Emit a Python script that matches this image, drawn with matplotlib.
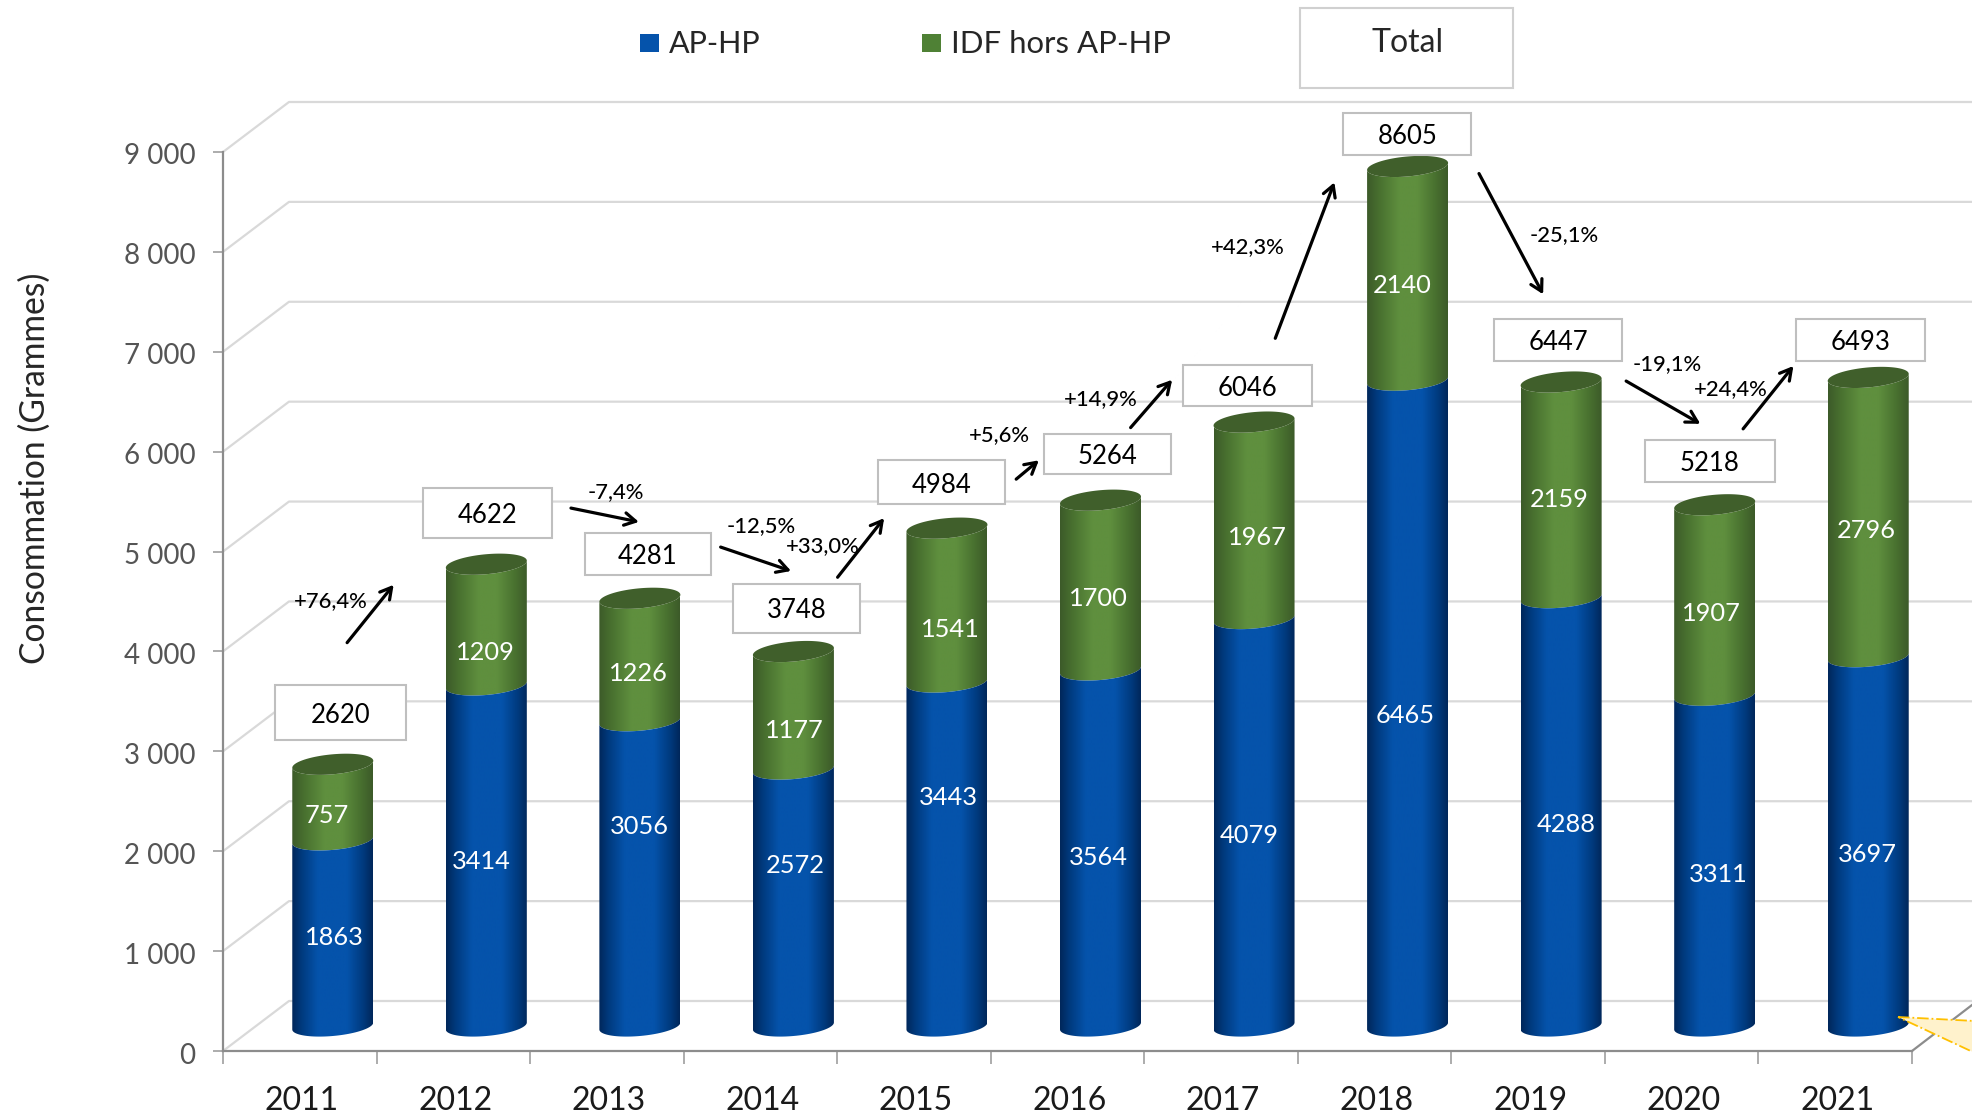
import numpy as np
import matplotlib
matplotlib.use("Agg")
import matplotlib.pyplot as plt
from matplotlib.colors import LinearSegmentedColormap
from matplotlib.patches import Polygon, Rectangle
from matplotlib.ticker import FuncFormatter
from matplotlib.transforms import ScaledTranslation

plt.rcParams['font.family'] = ['Lato', 'DejaVu Sans']

years = [2011, 2012, 2013, 2014, 2015, 2016, 2017, 2018, 2019, 2020, 2021]
aphp = [1863, 3414, 3056, 2572, 3443, 3564, 4079, 6465, 4288, 3311, 3697]
idf = [757, 1209, 1226, 1177, 1541, 1700, 1967, 2140, 2159, 1907, 2796]
totals = [2620, 4622, 4281, 3748, 4984, 5264, 6046, 8605, 6447, 5218, 6493]
changes = ['+76,4%', '-7,4%', '-12,5%', '+33,0%', '+5,6%', '+14,9%', '+42,3%', '-25,1%', '-19,1%', '+24,4%']
yticks = [0, 1000, 2000, 3000, 4000, 5000, 6000, 7000, 8000, 9000]

W, H = 1972, 1116
S = 1972 / 1568
X0, X1, Y0, Y9 = 223.0, 1912.0, 1051.0, 152.0
PXX = (X1 - X0) / 11
PXY = (Y0 - Y9) / 9000
DX, DY = 66 / PXX, 50 / PXY
TEXT_SHIFT = 2.2   # Lato sits higher than its box centre

fig = plt.figure(figsize=(W / 100, H / 100), dpi=100, facecolor='white')
ax = fig.add_axes([X0 / W, (H - Y0) / H, (X1 - X0) / W, (Y0 - Y9) / H])
ax.patch.set_alpha(0)


def px(x, y):
    return (x - X0) / PXX, (Y0 - y) / PXY


def spx(x, y):
    return px(x * S, y * S)


def tpx(x, y):
    return spx(x, y + TEXT_SHIFT)


# walls
GRID = '#d9d9d9'
AXC = '#8c8c8c'
xright = (W - X0) / PXX
for v in yticks:
    ax.plot([0, DX, xright], [v, v + DY, v + DY], color=GRID, lw=1.6, clip_on=False, zorder=1)
ax.plot([11, 11 + (W - X1) / PXX], [0, 46 / PXY], color=AXC, lw=1.6, clip_on=False, zorder=1.5)

# axes
for s in ('top', 'right'):
    ax.spines[s].set_visible(False)
for s in ('left', 'bottom'):
    ax.spines[s].set_color(AXC)
    ax.spines[s].set_linewidth(1.6)
    ax.spines[s].set_zorder(1.6)
ax.set_xlim(0, 11)
ax.set_ylim(0, 9000)
ax.set_yticks(yticks)
ax.yaxis.set_major_formatter(FuncFormatter(lambda v, _: f"{int(v):,}".replace(',', ' ')))
ax.tick_params(axis='y', length=7, width=1.3, color='#a6a6a6', pad=13, labelsize=20, labelcolor='#555555')
ax.set_xticks(np.arange(0, 12))
ax.set_xticklabels([])
ax.set_xticks(np.arange(11) + 0.5, minor=True)
ax.set_xticklabels([str(y) for y in years], minor=True)
ax.tick_params(axis='x', which='major', length=9, width=1.3, color='#a6a6a6')
ax.tick_params(axis='x', which='minor', length=0, pad=25, labelsize=23, labelcolor='#1a1a1a')
for lab in ax.get_xticklabels(minor=True):
    lab.set_transform(lab.get_transform() + ScaledTranslation(2 / 100, 0, fig.dpi_scale_trans))
for lab in ax.get_yticklabels():
    lab.set_transform(lab.get_transform() + ScaledTranslation(0, -2 / 100, fig.dpi_scale_trans))

lx, ly = px(35, 468)
ax.text(lx, ly, 'Consommation (Grammes)', rotation=90, ha='center', va='center',
        fontsize=24.2, color='#262626', clip_on=False)

# cylinders
blue_cmap = LinearSegmentedColormap.from_list('b', [(0, '#00275a'), (.12, '#003a7e'), (.32, '#0553ab'), (.68, '#0553ab'), (.88, '#003a7e'), (1, '#00275a')])
green_cmap = LinearSegmentedColormap.from_list('g', [(0, '#3c5a29'), (.15, '#48702f'), (.4, '#5f8f3e'), (.62, '#5f8f3e'), (.85, '#48702f'), (1, '#3c5a29')])
grad = np.linspace(0, 1, 256).reshape(1, -1)
HW = 40.5 / PXX
TILT, MINOR = 3.5 / PXY, 10 / PXY
t_front = np.linspace(np.pi, 0, 60)   # left -> right through the lower side
t_all = np.linspace(0, 2 * np.pi, 120)


def ell(xc, v, t):
    return xc + HW * np.cos(t), v + TILT * np.cos(t) - MINOR * np.sin(t)


def body(xc, v0, v1, cmap, z):
    x0, y0 = ell(xc, v0, t_front)
    x1, y1 = ell(xc, v1, t_front)
    pts = np.vstack([np.c_[x0, y0], np.c_[x1[::-1], y1[::-1]]])
    patch = Polygon(pts, closed=True, fc='none', ec='none', transform=ax.transData, zorder=z)
    ax.add_patch(patch)
    im = ax.imshow(grad, cmap=cmap, aspect='auto', extent=[xc - HW, xc + HW, v0 - 1000, v1 + 1000],
                   zorder=z, interpolation='bilinear')
    im.set_clip_path(patch)
    im.set_clip_on(True)


for i, (a, g) in enumerate(zip(aphp, idf)):
    xc = i + 0.5 + DX / 2
    base = DY / 2
    body(xc, base + a, base + a + g, green_cmap, 3)
    body(xc, base, base + a, blue_cmap, 3.1)
    ex, ey = ell(xc, base + a + g, t_all)
    ax.add_patch(Polygon(np.c_[ex, ey], closed=True, fc='#405f2b', ec='none', zorder=3.2, clip_on=False))
ax.set_xlim(0, 11)
ax.set_ylim(0, 9000)

# value labels
blue_pos = [(265, 743), (382, 683), (507, 655), (631, 686), (753, 632), (872, 680), (992, 662), (1116, 567), (1244, 653), (1365, 693), (1484, 677)]
green_pos = [(259, 646), (385, 517), (507, 533), (631, 579), (755, 498), (872, 474), (999, 425), (1114, 225), (1239, 395), (1360, 486), (1483, 420)]
for vals, pos in ((aphp, blue_pos), (idf, green_pos)):
    for v, p in zip(vals, pos):
        x, y = tpx(p[0] + 1, p[1])
        ax.text(x, y, str(v), color='white', fontsize=18.3, ha='center', va='center', zorder=5)

# total boxes (left, right, top, bottom)
boxes = [(219, 323, 545, 588), (336, 439, 388, 428), (465, 565, 424, 457), (583, 684, 464, 503), (698, 799, 366, 401),
         (830, 931, 345, 377), (941, 1043, 290, 323), (1068, 1170, 90, 123), (1188, 1290, 254, 287), (1308, 1411, 350, 383), (1428, 1531, 254, 287)]
for v, (l, r, t, b) in zip(totals, boxes):
    x0, y0 = spx(l, b)
    x1, y1 = spx(r, t)
    ax.add_patch(Rectangle((x0, y0), x1 - x0, y1 - y0, fc='white', ec='#bfbfbf', lw=1.5, zorder=4, clip_on=False))
    tx, ty = tpx((l + r) / 2, (t + b) / 2)
    ax.text(tx, ty, str(v), color='black', fontsize=18.5, ha='center', va='center', zorder=5)

# arrows and rates
arrows = [((276, 511), (313, 465)), ((454, 404), (508, 415)), ((573, 435), (629, 454)), ((666, 459), (703, 412)), ((808, 381), (826, 366)),
          ((899, 340), (932, 302)), ((1014, 269), (1061, 145)), ((1176, 138), (1227, 234)), ((1293, 303), (1352, 337)), ((1386, 341), (1426, 291))]
rate_pos = [(263, 476), (490, 389), (605, 416), (654, 432), (795, 344), (875, 315), (992, 194), (1244, 185), (1326, 287), (1376, 307)]
for (s, e), c, p in zip(arrows, changes, rate_pos):
    ax.annotate('', xy=spx(*e), xytext=spx(*s), zorder=6, annotation_clip=False,
                arrowprops=dict(arrowstyle='->,head_length=0.8,head_width=0.45', color='black', lw=2.3, shrinkA=0, shrinkB=0))
    x, y = tpx(*p)
    ax.text(x, y, c, fontsize=15.8, fontweight='medium', color='black', ha='center', va='center', zorder=6)

# legend
for (l, r), col, name, tx, fs in (((509, 524), '#0553ab', 'AP-HP', 532, 22), ((733, 748), '#4f8135', 'IDF hors AP-HP', 756, 22.4)):
    x0, y0 = spx(l, 41)
    x1, y1 = spx(r, 27)
    ax.add_patch(Rectangle((x0, y0), x1 - x0, y1 - y0, fc=col, ec='none', clip_on=False, zorder=5))
    x, y = tpx(tx, 33)
    ax.text(x, y, name, fontsize=fs, color='#262626', ha='left', va='center', clip_on=False)
x0, y0 = spx(1034, 70)
x1, y1 = spx(1203, 6)
ax.add_patch(Rectangle((x0, y0), x1 - x0, y1 - y0, fc='white', ec='#d0d0d0', lw=1.5, clip_on=False, zorder=4))
x, y = tpx(1119, 32)
ax.text(x, y, 'Total', fontsize=23, color='#262626', ha='center', va='center', zorder=5)

# yellow callout cut by the picture's edge
ax.add_patch(Polygon([px(1898, 1017), px(1975, 1021), px(1975, 1053)], closed=True, fc='#fff2cc', ec='#ffc000',
                     lw=1.3, ls='-.', clip_on=False, zorder=7))

fig.savefig('out.png', dpi=100, facecolor='white')
